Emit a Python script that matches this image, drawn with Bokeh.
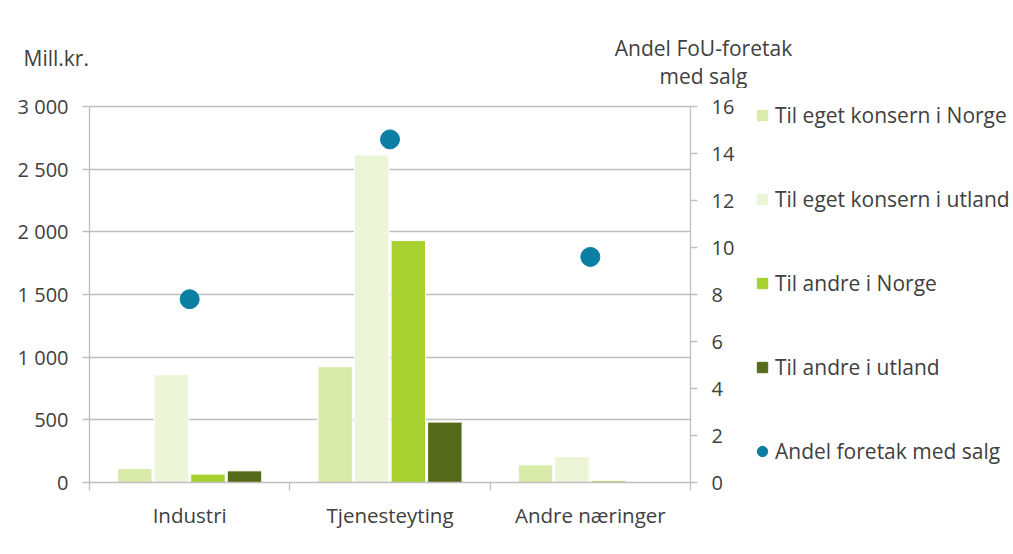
from bokeh.plotting import figure
from bokeh.layouts import column, row
from bokeh.models import Range1d, LinearAxis, FixedTicker, Legend, LegendItem, Label
from bokeh.embed import file_html
from bokeh.resources import INLINE

# ---------------- data ----------------
categories = ["Industri", "Tjenesteyting", "Andre næringer"]
series_names = ["Til eget konsern i Norge", "Til eget konsern i utland",
                "Til andre i Norge", "Til andre i utland"]
eget_konsern_norge = [112, 924, 141]
eget_konsern_utland = [860, 2614, 208]
andre_norge = [67, 1930, 13]
andre_utland = [93, 482, 0]
andel_med_salg = [7.8, 14.6, 9.6]
dot_name = "Andel foretak med salg"
left_ticks = [0, 500, 1000, 1500, 2000, 2500, 3000]
right_ticks = [0, 2, 4, 6, 8, 10, 12, 14, 16]
left_title = "Mill.kr."
right_title = ["Andel FoU-foretak", "med salg"]

# ---------------- style ----------------
colors = ["#d9eaa9", "#ecf5d8", "#a6d12f", "#556b1b"]
dot_color = "#0b7ea3"
grid_color = "#bfbfbf"
text_color = "#404040"
FONT = "Open Sans"

TOP_H = 88
MAIN_W, MAIN_H = 745, 466
LEG_W = 267
AXIS_H = 376            # pixel height from value 0 to the top tick
HEADROOM = 6            # small empty strip above the top tick (no axis line there)
FRAME_H = AXIS_H + HEADROOM
FRAME_TOP = 106 - HEADROOM - TOP_H
FRAME_BOTTOM = TOP_H + FRAME_TOP + FRAME_H   # in page pixels

# ---------------- title strip ----------------
t = figure(width=MAIN_W + LEG_W, height=TOP_H, output_backend="svg", toolbar_location=None,
           x_range=Range1d(0, 1), y_range=Range1d(0, 1),
           x_axis_location=None, y_axis_location=None, min_border=0)
t.outline_line_color = None
t.grid.visible = False
t.add_layout(Label(x=23, y=TOP_H - 57, x_units="screen", y_units="screen", text=left_title,
                   text_font=FONT, text_font_size="21px", text_color=text_color,
                   text_baseline="alphabetic", text_align="left"))
for k, line in enumerate(right_title):
    t.add_layout(Label(x=703, y=TOP_H - 47 - 28 * k, x_units="screen", y_units="screen",
                       text=line, text_font=FONT, text_font_size="21px",
                       text_color=text_color, text_baseline="alphabetic",
                       text_align="center"))

# ---------------- main chart ----------------
left_max, right_max = left_ticks[-1], right_ticks[-1]
p = figure(width=MAIN_W, height=MAIN_H, output_backend="svg",
           toolbar_location=None, x_range=Range1d(0, 3),
           y_range=Range1d(0, left_max * FRAME_H / AXIS_H),
           min_border_left=89, min_border_right=55, min_border_top=FRAME_TOP,
           min_border_bottom=MAIN_H - FRAME_TOP - FRAME_H)
p.outline_line_color = None

series = [eget_konsern_norge, eget_konsern_utland, andre_norge, andre_utland]
pitch = 0.1825
bar_w = 0.172
for j, vals in enumerate(series):
    xs = [i + 0.5 + (j - 1.5) * pitch for i in range(len(categories))]
    p.vbar(x=xs, top=vals, bottom=0, width=bar_w, fill_color=colors[j],
           line_color="white", line_width=1)

p.extra_y_ranges = {"andel": Range1d(0, right_max * FRAME_H / AXIS_H)}
p.scatter(x=[i + 0.5 for i in range(len(categories))], y=andel_med_salg,
          y_range_name="andel", size=19, fill_color=dot_color, line_color=dot_color)

# x axis (ticks between categories, labels at centres)
xa = p.xaxis[0]
xa.ticker = FixedTicker(ticks=[i + 0.5 for i in range(len(categories))],
                        minor_ticks=list(range(len(categories) + 1)))
xa.major_label_overrides = {i + 0.5: c for i, c in enumerate(categories)}
xa.major_tick_line_color = None
xa.major_tick_out = 0
xa.major_tick_in = 0
xa.minor_tick_out = 8
xa.minor_tick_in = 0
xa.minor_tick_line_color = grid_color
xa.minor_tick_line_width = 1.3
xa.axis_line_color = grid_color
xa.axis_line_width = 1.3
xa.major_label_standoff = 10
xa.major_label_text_font = FONT
xa.major_label_text_font_size = "20.5px"
xa.major_label_text_color = text_color

# left axis
ya = p.yaxis[0]
ya.ticker = FixedTicker(ticks=left_ticks, minor_ticks=[])
ya.bounds = (0, left_max)
ya.major_label_overrides = {t_: f"{t_:,}".replace(",", " ") for t_ in left_ticks}
ya.major_tick_out = 7
ya.major_tick_in = 0
ya.major_tick_line_color = grid_color
ya.major_tick_line_width = 1.3
ya.axis_line_color = grid_color
ya.axis_line_width = 1.3
ya.major_label_standoff = 14
ya.major_label_text_font = FONT
ya.major_label_text_font_size = "20px"
ya.major_label_text_color = text_color

# right axis
ra = LinearAxis(y_range_name="andel", ticker=FixedTicker(ticks=right_ticks, minor_ticks=[]),
                bounds=(0, right_max))
ra.major_tick_out = 7
ra.major_tick_in = 0
ra.major_tick_line_color = grid_color
ra.major_tick_line_width = 1.3
ra.axis_line_color = grid_color
ra.axis_line_width = 1.3
ra.major_label_standoff = 14
ra.major_label_text_font = FONT
ra.major_label_text_font_size = "20px"
ra.major_label_text_color = text_color
p.add_layout(ra, "right")

p.xgrid.grid_line_color = None
p.ygrid.ticker = FixedTicker(ticks=left_ticks, minor_ticks=[])
p.ygrid.grid_line_color = grid_color
p.ygrid.grid_line_width = 1.3

# ---------------- legend panel (frame is aligned with the main chart's frame) ----------------
ITEM_H = 30
SPACING = 54
n_items = len(series_names) + 1
leg_h = n_items * ITEM_H + (n_items - 1) * SPACING
legend_top = 115 - ITEM_H // 2          # first item centred on the first legend row
lg = figure(width=LEG_W, height=MAIN_H, output_backend="svg", toolbar_location=None,
            x_range=Range1d(0, 1), y_range=Range1d(0, 1),
            x_axis_location=None, y_axis_location=None, min_border=0,
            min_border_left=4, min_border_top=FRAME_TOP,
            min_border_bottom=MAIN_H - FRAME_TOP - FRAME_H)
lg.outline_line_color = None
lg.grid.visible = False
# legend swatches: one point each, placed outside the visible range
items = []
for j in range(4):
    r = lg.scatter(x=[-10], y=[-10], marker="square", fill_color=colors[j],
                   line_color=colors[j])
    items.append(LegendItem(label=series_names[j], renderers=[r]))
rd = lg.scatter(x=[-10], y=[-10], marker="circle", fill_color=dot_color, line_color=dot_color)
items.append(LegendItem(label=dot_name, renderers=[rd]))

legend = Legend(items=items, orientation="vertical",
                location=(0, FRAME_BOTTOM - legend_top - leg_h))
legend.label_text_font = FONT
legend.label_text_font_size = "21px"
legend.label_text_color = text_color
legend.glyph_width = 26
legend.glyph_height = ITEM_H
legend.label_height = ITEM_H
legend.spacing = SPACING
legend.padding = 0
legend.margin = 0
legend.label_standoff = 0
legend.border_line_color = None
legend.background_fill_alpha = 0
lg.add_layout(legend)

layout = column(t, row(p, lg, spacing=0), spacing=0)
open("out.html", "w").write(file_html(layout, INLINE))
